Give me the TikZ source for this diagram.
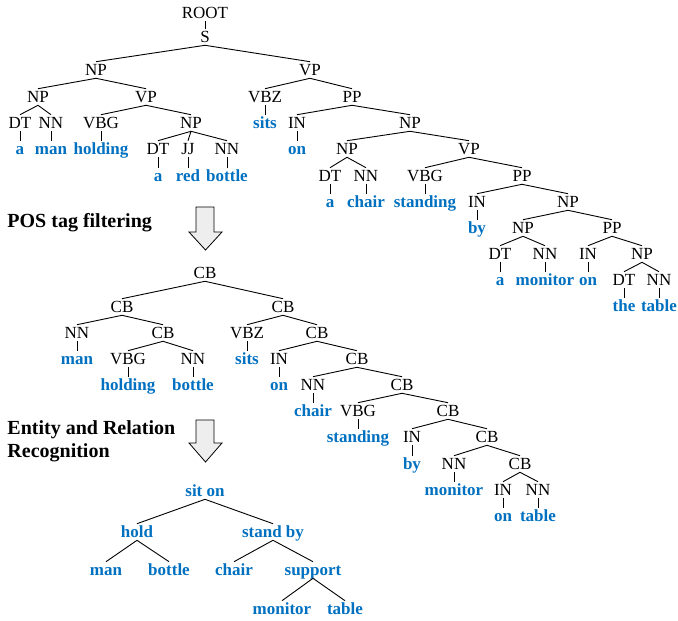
\documentclass[tikz,border=0pt]{standalone}
\usepackage{fontspec}
\setmainfont{Liberation Serif}
\usetikzlibrary{positioning}

\definecolor{wordblue}{RGB}{0,112,192}
\definecolor{arrowgray}{RGB}{238,238,238}

\begin{document}
\begin{tikzpicture}[
    x=1pt, y=-1pt,
    tag/.style={inner sep=0pt, text height=13.5pt, text depth=2.2pt, font=\fontsize{17}{17}\selectfont},
    word/.style={tag, text=wordblue, font=\fontsize{17}{17}\selectfont\bfseries},
    stage/.style={inner sep=0pt, anchor=west, align=left, font=\fontsize{20}{23}\selectfont\bfseries},
    bigarrow/.style={draw, line width=0.8pt, fill=arrowgray},
    every path/.style={line width=0.9pt}
]
\useasboundingbox (0,0) rectangle (678,621);

% parse tree
\node[tag] (root) at (205,13) {ROOT};
\node[tag] (s) at (205,37) {S};
\node[tag] (np1) at (96,70) {NP};
\node[tag] (vp1) at (310,70) {VP};
\node[tag] (np2) at (38,97) {NP};
\node[tag] (vp2) at (146,97) {VP};
\node[tag] (vbz1) at (265,97) {VBZ};
\node[tag] (pp1) at (352,97) {PP};
\node[tag] (dt1) at (20,123) {DT};
\node[tag] (nn1) at (51,123) {NN};
\node[tag] (vbg1) at (101,123) {VBG};
\node[tag] (np3) at (191,123) {NP};
\node[word] (sits1) at (265,123) {sits};
\node[tag] (in1) at (297,123) {IN};
\node[tag] (np4) at (410,123) {NP};
\node[word] (a1) at (20,149) {a};
\node[word] (man1) at (51,149) {man};
\node[word] (holding1) at (101,149) {holding};
\node[tag] (dt2) at (158,149) {DT};
\node[tag] (jj) at (188,149) {JJ};
\node[tag] (nn2) at (227,149) {NN};
\node[word] (on1) at (297,149) {on};
\node[tag] (np5) at (347,149) {NP};
\node[tag] (vp3) at (469,149) {VP};
\node[word] (a2) at (158,176) {a};
\node[word] (red) at (188,176) {red};
\node[word] (bottle1) at (227,176) {bottle};
\node[tag] (dt3) at (330,176) {DT};
\node[tag] (nn3) at (366,176) {NN};
\node[tag] (vbg2) at (425,176) {VBG};
\node[tag] (pp2) at (522,176) {PP};
\node[word] (a3) at (330,202) {a};
\node[word] (chair1) at (366,202) {chair};
\node[word] (standing1) at (425,202) {standing};
\node[tag] (in2) at (477,202) {IN};
\node[tag] (np6) at (568,202) {NP};
\node[word] (by1) at (477,228) {by};
\node[tag] (np7) at (523,228) {NP};
\node[tag] (pp3) at (612,228) {PP};
\node[tag] (dt4) at (500,254) {DT};
\node[tag] (nn4) at (545,254) {NN};
\node[tag] (in3) at (588,254) {IN};
\node[tag] (np8) at (642,254) {NP};
\node[word] (a4) at (500,280) {a};
\node[word] (monitor1) at (545,280) {monitor};
\node[word] (on2) at (588,280) {on};
\node[tag] (dt5) at (624,280) {DT};
\node[tag] (nn5) at (659,280) {NN};
\node[word] (the) at (624,306) {the};
\node[word] (table1) at (659,306) {table};

\foreach \p/\c in {root/s, s/np1, s/vp1, np1/np2, np1/vp2, vp1/vbz1, vp1/pp1,
    np2/dt1, np2/nn1, vp2/vbg1, vp2/np3, vbz1/sits1, pp1/in1, pp1/np4,
    dt1/a1, nn1/man1, vbg1/holding1, np3/dt2, np3/jj, np3/nn2, in1/on1, np4/np5, np4/vp3,
    dt2/a2, jj/red, nn2/bottle1, np5/dt3, np5/nn3, vp3/vbg2, vp3/pp2,
    dt3/a3, nn3/chair1, vbg2/standing1, pp2/in2, pp2/np6,
    in2/by1, np6/np7, np6/pp3, np7/dt4, np7/nn4, pp3/in3, pp3/np8,
    dt4/a4, nn4/monitor1, in3/on2, np8/dt5, np8/nn5, dt5/the, nn5/table1}
  \draw (\p.south) -- (\c.north);

% filtered tree
\node[tag] (cb1) at (205,273) {CB};
\node[tag] (cb2) at (122,307) {CB};
\node[tag] (cb3) at (283,307) {CB};
\node[tag] (nn6) at (77,333) {NN};
\node[tag] (cb4) at (163,333) {CB};
\node[tag] (vbz2) at (247,333) {VBZ};
\node[tag] (cb5) at (317,333) {CB};
\node[word] (man2) at (77,359) {man};
\node[tag] (vbg3) at (128,359) {VBG};
\node[tag] (nn7) at (193,359) {NN};
\node[word] (sits2) at (247,359) {sits};
\node[tag] (in4) at (279,359) {IN};
\node[tag] (cb6) at (357,359) {CB};
\node[word] (holding2) at (128,385) {holding};
\node[word] (bottle2) at (193,385) {bottle};
\node[word] (on3) at (279,385) {on};
\node[tag] (nn8) at (313,385) {NN};
\node[tag] (cb7) at (402,385) {CB};
\node[word] (chair2) at (313,411) {chair};
\node[tag] (vbg4) at (358,411) {VBG};
\node[tag] (cb8) at (448,411) {CB};
\node[word] (standing2) at (358,437) {standing};
\node[tag] (in5) at (412,437) {IN};
\node[tag] (cb9) at (487,437) {CB};
\node[word] (by2) at (412,464) {by};
\node[tag] (nn9) at (454,464) {NN};
\node[tag] (cb10) at (520,464) {CB};
\node[word] (monitor2) at (454,490) {monitor};
\node[tag] (in6) at (503,490) {IN};
\node[tag] (nn10) at (538,490) {NN};
\node[word] (on4) at (503,516) {on};
\node[word] (table2) at (538,516) {table};

\foreach \p/\c in {cb1/cb2, cb1/cb3, cb2/nn6, cb2/cb4, cb3/vbz2, cb3/cb5,
    nn6/man2, cb4/vbg3, cb4/nn7, vbz2/sits2, cb5/in4, cb5/cb6,
    vbg3/holding2, nn7/bottle2, in4/on3, cb6/nn8, cb6/cb7,
    nn8/chair2, cb7/vbg4, cb7/cb8, vbg4/standing2, cb8/in5, cb8/cb9,
    in5/by2, cb9/nn9, cb9/cb10, nn9/monitor2, cb10/in6, cb10/nn10,
    in6/on4, nn10/table2}
  \draw (\p.south) -- (\c.north);

% relation tree
\node[word] (siton) at (205,491) {sit on};
\node[word] (hold) at (137,532) {hold};
\node[word] (standby) at (273,532) {stand by};
\node[word] (man3) at (106,570) {man};
\node[word] (bottle3) at (169,570) {bottle};
\node[word] (chair3) at (234,570) {chair};
\node[word] (support) at (313,570) {support};
\node[word] (monitor3) at (282,609) {monitor};
\node[word] (table3) at (345,609) {table};

\foreach \p/\c in {siton/hold, siton/standby, hold/man3, hold/bottle3,
    standby/chair3, standby/support, support/monitor3, support/table3}
  \draw (\p.south) -- (\c.north);

% stages
\node[stage] (filter) at (7,223) {POS tag filtering};
\node[stage] (recog) at (7,441) {Entity and Relation\\Recognition};

\draw[bigarrow] (196,207) -- (214,207) -- (214,232) -- (222,232) -- (205.5,250)
  -- (189,232) -- (196,232) -- cycle;
\draw[bigarrow] (196,420) -- (214,420) -- (214,443) -- (222,443) -- (205.5,462)
  -- (189,443) -- (196,443) -- cycle;
\end{tikzpicture}
\end{document}
